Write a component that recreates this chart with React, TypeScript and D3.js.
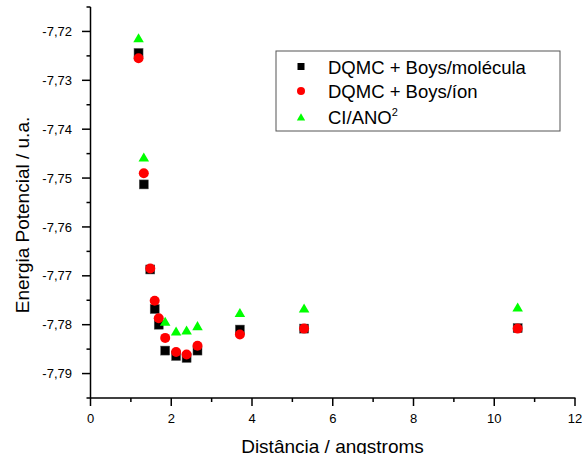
import React from "react";
import * as d3 from "d3";

const distances = [1.19, 1.32, 1.48, 1.59, 1.69, 1.85, 2.12, 2.38, 2.65, 3.7, 5.29, 10.58];
const dqmcMolecula = [-7.7244, -7.7513, -7.7687, -7.7768, -7.78, -7.7853, -7.7864, -7.7868, -7.7853, -7.781, -7.7808, -7.7807];
const dqmcIon = [-7.7255, -7.749, -7.7685, -7.7751, -7.7787, -7.7827, -7.7856, -7.7861, -7.7843, -7.782, -7.7808, -7.7808];
const ciDistances = [1.19, 1.32, 1.85, 2.12, 2.38, 2.65, 3.7, 5.29, 10.58];
const ciAno2 = [-7.7214, -7.7458, -7.7794, -7.7814, -7.7812, -7.7803, -7.7776, -7.7767, -7.7765];

const yMajorTicks = [-7.79, -7.78, -7.77, -7.76, -7.75, -7.74, -7.73, -7.72];
const yMinorTicks = [-7.795, -7.785, -7.775, -7.765, -7.755, -7.745, -7.735, -7.725, -7.715];
const xMajorTicks = [0, 2, 4, 6, 8, 10, 12];
const xMinorTicks = [1, 3, 5, 7, 9, 11];

const FONT = "Liberation Sans, Arial, sans-serif";

export default function App() {
  const W = 582, H = 454;
  const x = d3.scaleLinear().domain([0, 12]).range([90.5, 575]);
  const y = d3.scaleLinear().domain([-7.795, -7.715]).range([398, 7]);
  const fmt = (v: number) => v.toFixed(2).replace(".", ",");
  const tri = d3.symbol().type(d3.symbolTriangle).size(48)();
  const triLeg = d3.symbol().type(d3.symbolTriangle).size(30)();

  return (
    <svg width={W} height={H} style={{ position: "absolute", left: 0, top: 0 }} fontFamily={FONT}>
      <rect x={0} y={0} width={W} height={H} fill="#fff" />
      {/* y axis */}
      <line x1={90.5} x2={90.5} y1={7} y2={398} stroke="#000" strokeWidth={1.5} />
      {yMajorTicks.map((t) => (
        <g key={"ym" + t}>
          <line x1={82} x2={90.5} y1={y(t)} y2={y(t)} stroke="#000" strokeWidth={1.5} />
          <text x={72} y={y(t) + 4.6} fontSize={13} textAnchor="end" fill="#000">{fmt(t)}</text>
        </g>
      ))}
      {yMinorTicks.map((t) => (
        <line key={"yn" + t} x1={86.5} x2={90.5} y1={y(t)} y2={y(t)} stroke="#000" strokeWidth={1.5} />
      ))}
      {/* x axis */}
      <line x1={90} x2={575.5} y1={398} y2={398} stroke="#000" strokeWidth={1.5} />
      {xMajorTicks.map((t) => (
        <g key={"xm" + t}>
          <line x1={x(t)} x2={x(t)} y1={398} y2={406} stroke="#000" strokeWidth={1.5} />
          <text x={x(t)} y={422.5} fontSize={13} textAnchor="middle" fill="#000">{t}</text>
        </g>
      ))}
      {xMinorTicks.map((t) => (
        <line key={"xn" + t} x1={x(t)} x2={x(t)} y1={398} y2={402} stroke="#000" strokeWidth={1.5} />
      ))}
      <text x={332.5} y={453} fontSize={19} textAnchor="middle" fill="#000">Distância / angstroms</text>
      <text transform="translate(29,215) rotate(-90)" fontSize={19} textAnchor="middle" fill="#000">Energia Potencial / u.a.</text>

      {/* series */}
      {distances.map((d, i) => (
        <rect key={"s" + i} x={x(d) - 4.5} y={y(dqmcMolecula[i]) - 4.5} width={9} height={9} fill="#000" stroke="#555" strokeWidth={0.5} />
      ))}
      {distances.map((d, i) => (
        <circle key={"c" + i} cx={x(d)} cy={y(dqmcIon[i])} r={5} fill="#ff0000" />
      ))}
      {ciDistances.map((d, i) => (
        <path key={"t" + i} d={tri} transform={`translate(${x(d)},${y(ciAno2[i]) + 1})`} fill="#00ff00" />
      ))}

      {/* legend */}
      <rect x={276} y={51} width={284} height={80} fill="#fff" stroke="#555" strokeWidth={1} />
      <rect x={297.5} y={63} width={7} height={7} fill="#000" />
      <text x={328} y={73.5} fontSize={18.5} fill="#000">DQMC + Boys/molécula</text>
      <circle cx={301} cy={91} r={4} fill="#ff0000" />
      <text x={328} y={97.5} fontSize={18.5} fill="#000">DQMC + Boys/íon</text>
      <path d={triLeg} transform="translate(301,118)" fill="#00ff00" />
      <text x={328} y={124} fontSize={18.5} fill="#000">CI/ANO<tspan fontSize={11} dy={-8}>2</tspan></text>
    </svg>
  );
}
